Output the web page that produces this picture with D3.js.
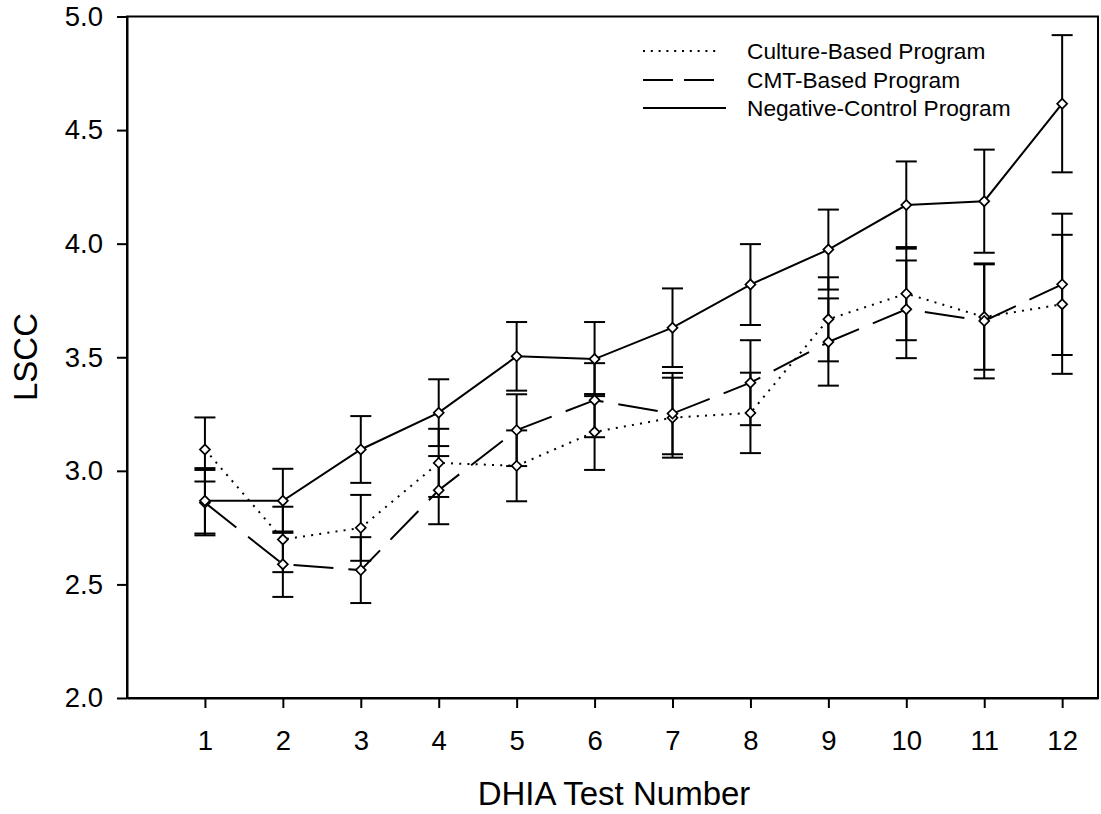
<!DOCTYPE html>
<html>
<head>
<meta charset="utf-8">
<script src="https://cdn.jsdelivr.net/npm/d3@7"></script>
<style>
  html, body { margin: 0; padding: 0; background: #fff; }
  svg { display: block; font-family: "Liberation Sans", Arial, sans-serif; }
</style>
</head>
<body>
<svg id="chart" width="1101" height="814"></svg>
<script>
// DHIA test numbers on the x axis
const tests = [1, 2, 3, 4, 5, 6, 7, 8, 9, 10, 11, 12];

// Mean LSCC per test and half-width of the error bars
const cultureMean = [3.094, 2.698, 2.749, 3.035, 3.022, 3.171, 3.234, 3.255, 3.667, 3.780, 3.677, 3.733];
const cultureErr  = [0.141, 0.144, 0.145, 0.150, 0.156, 0.167, 0.176, 0.177, 0.185, 0.205, 0.232, 0.306];

const cmtMean = [2.860, 2.589, 2.563, 2.915, 3.179, 3.311, 3.252, 3.388, 3.567, 3.711, 3.660, 3.821];
const cmtErr  = [0.144, 0.144, 0.145, 0.150, 0.158, 0.163, 0.179, 0.187, 0.192, 0.215, 0.253, 0.311];

const negMean = [2.868, 2.868, 3.094, 3.256, 3.504, 3.492, 3.630, 3.820, 3.974, 4.170, 4.187, 4.616];
const negErr  = [0.144, 0.141, 0.147, 0.147, 0.151, 0.163, 0.173, 0.178, 0.176, 0.192, 0.227, 0.302];

const yTicks = [2.0, 2.5, 3.0, 3.5, 4.0, 4.5, 5.0];
const seriesNames = ["Culture-Based Program", "CMT-Based Program", "Negative-Control Program"];

const series = [
  { name: seriesNames[0], mean: cultureMean, err: cultureErr, dash: "2,6.2", legendDash: "2,5.8" },
  { name: seriesNames[1], mean: cmtMean,     err: cmtErr,     dash: "40,15", legendDash: "30,11" },
  { name: seriesNames[2], mean: negMean,     err: negErr,     dash: null,    legendDash: null }
];

const svg = d3.select("#chart");
const plotLeft = 127, plotRight = 1098, plotTop = 16.5, plotBottom = 698;

const x = d3.scaleLinear().domain([0, 12.46]).range([plotLeft, plotRight]);
const y = d3.scaleLinear().domain([2, 5]).range([plotBottom, plotTop]);

// frame
svg.append("rect")
  .attr("x", plotLeft).attr("y", plotTop)
  .attr("width", plotRight - plotLeft).attr("height", plotBottom - plotTop)
  .attr("fill", "none").attr("stroke", "#000").attr("stroke-width", 2);

// axes
const yAxis = svg.append("g")
  .attr("transform", `translate(${plotLeft},0)`)
  .call(d3.axisLeft(y).tickValues(yTicks).tickFormat(d3.format(".1f")).tickSizeInner(10).tickSizeOuter(0).tickPadding(14));
const xAxis = svg.append("g")
  .attr("transform", `translate(0,${plotBottom})`)
  .call(d3.axisBottom(x).tickValues(tests).tickFormat(d3.format("d")).tickSizeInner(10).tickSizeOuter(0).tickPadding(22));

[yAxis, xAxis].forEach(g => {
  g.select(".domain").attr("stroke", "#000").attr("stroke-width", 2);
  g.selectAll(".tick line").attr("stroke", "#000").attr("stroke-width", 2);
  g.selectAll(".tick text")
    .attr("fill", "#000")
    .style("font-family", '"Liberation Sans", Arial, sans-serif')
    .style("font-size", "27.5px");
});

// axis titles
svg.append("text")
  .attr("x", 614).attr("y", 805)
  .attr("text-anchor", "middle")
  .style("font-size", "33px")
  .text("DHIA Test Number");

svg.append("text")
  .attr("transform", "translate(36.5,357) rotate(-90)")
  .attr("text-anchor", "middle")
  .style("font-size", "33px")
  .text("LSCC");

// series lines
const line = d3.line().x((d, i) => x(tests[i])).y(d => y(d));
const plot = svg.append("g");

series.forEach(s => {
  plot.append("path")
    .datum(s.mean)
    .attr("d", line)
    .attr("fill", "none")
    .attr("stroke", "#000")
    .attr("stroke-width", 2)
    .attr("stroke-dasharray", s.dash);
});

// error bars
const capHalf = 10.5;
series.forEach(s => {
  const g = plot.append("g");
  s.mean.forEach((m, i) => {
    const cx = x(tests[i]);
    const y0 = y(m - s.err[i]), y1 = y(m + s.err[i]);
    g.append("line").attr("x1", cx).attr("x2", cx).attr("y1", y0).attr("y2", y1)
      .attr("stroke", "#000").attr("stroke-width", 2);
    [y0, y1].forEach(yy => {
      g.append("line").attr("x1", cx - capHalf).attr("x2", cx + capHalf).attr("y1", yy).attr("y2", yy)
        .attr("stroke", "#000").attr("stroke-width", 2);
    });
  });
});

// diamond markers
const diamond = d3.symbol().type(d3.symbolSquare).size(50);
series.forEach(s => {
  plot.append("g").selectAll("path")
    .data(s.mean)
    .join("path")
    .attr("d", diamond)
    .attr("transform", (d, i) => `translate(${x(tests[i])},${y(d)}) rotate(45)`)
    .attr("fill", "#fff")
    .attr("stroke", "#000")
    .attr("stroke-width", 1.7);
});

// legend
const legendRows = [
  { y: 51,  x2: 721 },
  { y: 80,  x2: 715 },
  { y: 108, x2: 726 }
];
const legend = svg.append("g");
series.forEach((s, i) => {
  const r = legendRows[i];
  legend.append("line")
    .attr("x1", 643).attr("x2", r.x2).attr("y1", r.y).attr("y2", r.y)
    .attr("stroke", "#000").attr("stroke-width", 2)
    .attr("stroke-dasharray", s.legendDash);
  legend.append("text")
    .attr("x", 747).attr("y", r.y + 8)
    .style("font-size", "22.7px")
    .text(s.name);
});
</script>
</body>
</html>
